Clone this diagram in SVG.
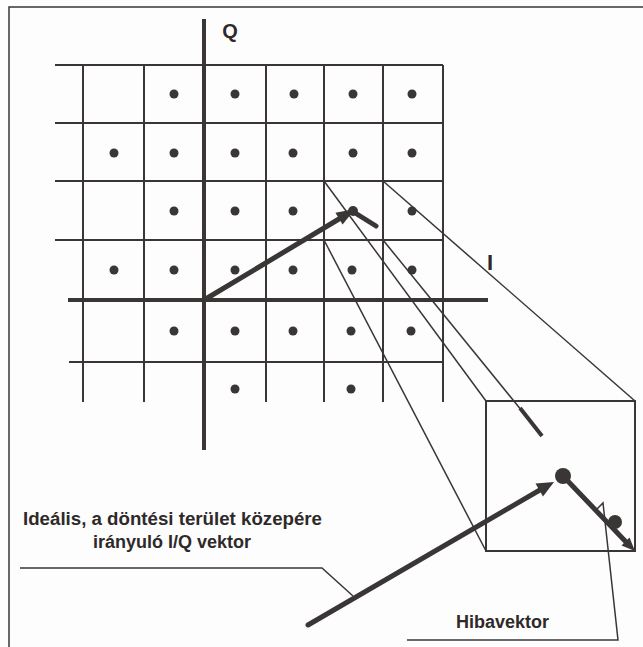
<svg xmlns="http://www.w3.org/2000/svg" width="643" height="647" viewBox="0 0 643 647">
<defs>
<style>
.ink{stroke:#3a3636;fill:none;stroke-linecap:butt}
.grid{stroke:#3a3636;stroke-width:2;fill:none}
.axis{stroke:#3a3636;stroke-width:4;fill:none}
.thin{stroke:#3a3636;stroke-width:1.5;fill:none}
.vec{stroke:#3a3636;stroke-width:5;fill:none;stroke-linecap:round}
.dot{fill:#3a3636}
.lbl{font-family:"Liberation Sans",Arial,sans-serif;font-weight:bold;fill:#2e2a2a}
</style>
</defs>
<rect x="0" y="0" width="643" height="647" fill="#fdfdfd"/>
<g id="frame">
<path class="thin" d="M9,647 V7 H643"/>
</g>
<g id="grid">
<path class="grid" d="M55,65 H443 M55,123 H443 M55,181 H443 M55,240 H443 M69,362 H443"/>
<path class="grid" d="M83,65 V402 M144,65 V402 M266,65 V402 M324,65 V402 M383,65 V402 M443,65 V402"/>
</g>
<g id="axes">
<path class="axis" d="M204,19 V450"/>
<path class="axis" d="M68,300 H488"/>
<text class="lbl" x="230" y="38" font-size="20" text-anchor="middle">Q</text>
<text class="lbl" x="490" y="270" font-size="22" text-anchor="middle">I</text>
</g>
<g id="dots">
<circle class="dot" cx="174" cy="94" r="4.5"/><circle class="dot" cx="235" cy="94" r="4.5"/><circle class="dot" cx="294" cy="94" r="4.5"/><circle class="dot" cx="353" cy="94" r="4.5"/><circle class="dot" cx="412" cy="94" r="4.5"/>
<circle class="dot" cx="114" cy="153" r="4.5"/><circle class="dot" cx="174" cy="153" r="4.5"/><circle class="dot" cx="235" cy="153" r="4.5"/><circle class="dot" cx="293" cy="153" r="4.5"/><circle class="dot" cx="353" cy="153" r="4.5"/><circle class="dot" cx="412" cy="153" r="4.5"/>
<circle class="dot" cx="174" cy="211" r="4.5"/><circle class="dot" cx="235" cy="211" r="4.5"/><circle class="dot" cx="293" cy="211" r="4.5"/><circle class="dot" cx="412" cy="211" r="4.5"/>
<circle class="dot" cx="114" cy="270" r="4.5"/><circle class="dot" cx="174" cy="270" r="4.5"/><circle class="dot" cx="235" cy="270" r="4.5"/><circle class="dot" cx="293" cy="270" r="4.5"/><circle class="dot" cx="352" cy="270" r="4.5"/><circle class="dot" cx="412" cy="270" r="4.5"/>
<circle class="dot" cx="174" cy="331" r="4.5"/><circle class="dot" cx="235" cy="331" r="4.5"/><circle class="dot" cx="293" cy="331" r="4.5"/><circle class="dot" cx="351" cy="331" r="4.5"/><circle class="dot" cx="411" cy="331" r="4.5"/>
<circle class="dot" cx="235" cy="389" r="4.5"/><circle class="dot" cx="351" cy="389" r="4.5"/>
</g>
<g id="zoom-lines">
<path class="thin" d="M324,181 L486,401"/>
<path class="thin" d="M383,181 L635,401"/>
<path class="thin" d="M324,240 L486,551"/>
<path class="thin" d="M383,240 L522,411"/>
<path class="ink" stroke-width="4" d="M520,408 L542,436"/>
</g>
<g id="zoom-box">
<rect class="grid" x="486" y="401" width="149" height="150"/>
</g>
<g id="grid-vector">
<path class="vec" stroke-width="6" d="M204,300 L344,216"/>
<polygon class="dot" points="355,209 342.6,224.4 335.4,212.8"/>
<circle class="dot" cx="353" cy="211" r="5"/>
<path class="vec" stroke-width="7" d="M352,211 L376,226"/>
</g>
<g id="box-vectors">
<path class="vec" stroke-width="5.5" d="M308,625 L545,487"/>
<polygon class="dot" points="554,482 543,496.5 535.5,483.5"/>
<circle class="dot" cx="563" cy="476" r="8"/>
<path class="vec" stroke-width="5" d="M563,476 L627,543"/>
<polygon class="dot" points="635,551 621.5,545.5 629.5,537.5"/>
<circle class="dot" cx="615" cy="522" r="7"/>
</g>
<g id="labels">
<text class="lbl" x="172.5" y="525" font-size="18" text-anchor="middle" textLength="299" lengthAdjust="spacingAndGlyphs">Ideális, a döntési terület közepére</text>
<text class="lbl" x="172" y="548" font-size="18" text-anchor="middle">irányuló I/Q vektor</text>
<path class="thin" d="M20,568 H322 L353,596"/>
<text class="lbl" x="502.5" y="628" font-size="18" text-anchor="middle">Hibavektor</text>
<path class="thin" d="M597,509 L603,503 L618,640 H407"/>
</g>
</svg>
